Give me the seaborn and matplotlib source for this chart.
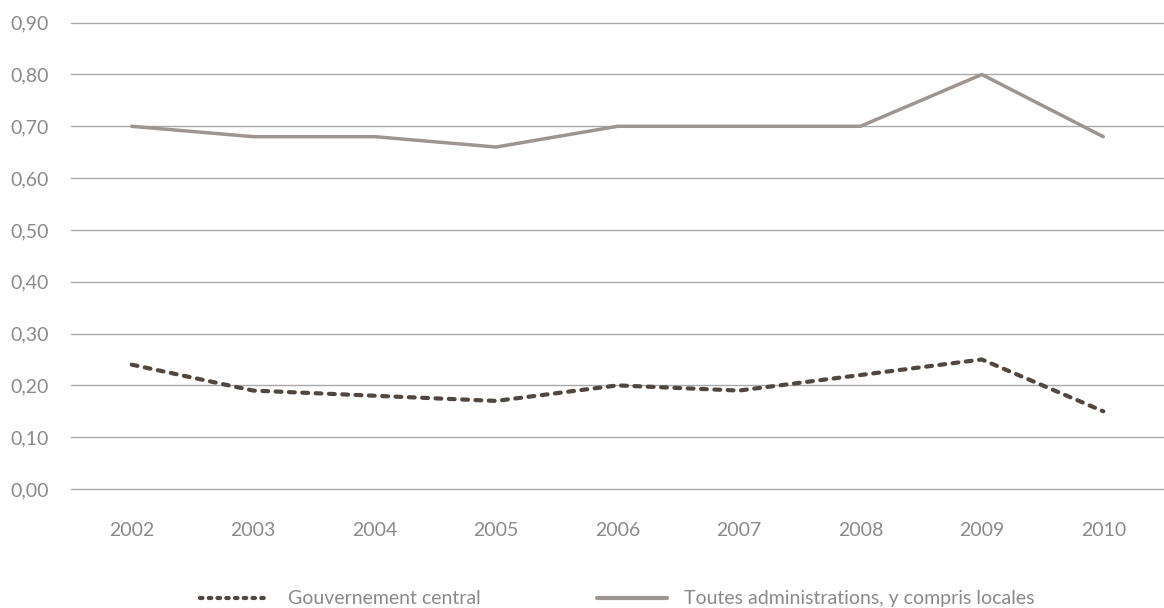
import matplotlib
matplotlib.use("Agg")
import matplotlib.pyplot as plt
from matplotlib.lines import Line2D
from matplotlib.ticker import FuncFormatter
import pandas as pd
import seaborn as sns

# Series values by year
years = [2002, 2003, 2004, 2005, 2006, 2007, 2008, 2009, 2010]
gouvernement_central = [0.24, 0.19, 0.18, 0.17, 0.20, 0.19, 0.22, 0.25, 0.15]
toutes_administrations = [0.70, 0.68, 0.68, 0.66, 0.70, 0.70, 0.70, 0.80, 0.68]
series_names = ["Gouvernement central", "Toutes administrations, y compris locales"]
y_ticks = [0.0, 0.1, 0.2, 0.3, 0.4, 0.5, 0.6, 0.7, 0.8, 0.9]

df = pd.DataFrame({
    "annee": years * 2,
    "valeur": gouvernement_central + toutes_administrations,
    "serie": [series_names[0]] * len(years) + [series_names[1]] * len(years),
})

sns.set_theme(style="white")
plt.rcParams["font.family"] = ["Lato", "DejaVu Sans"]

text_color = "#8a8a8a"
grid_color = "#a9a9a9"
dark = "#514741"
light = "#9d9591"

fig = plt.figure(figsize=(11.64, 6.08), dpi=100)
ax = fig.add_axes([0.061, 0.1957, 0.939, 0.767])

# horizontal gridlines, drawn unclipped so the 0 and top lines stay full width
for y in y_ticks:
    ax.axhline(y, color=grid_color, lw=1.0, zorder=0, clip_on=False)

sns.lineplot(
    data=df[df["serie"] == series_names[1]], x="annee", y="valeur",
    color=light, lw=2.5, ax=ax, legend=False, solid_capstyle="round",
)
sns.lineplot(
    data=df[df["serie"] == series_names[0]], x="annee", y="valeur",
    color=dark, lw=3.0, ax=ax, legend=False,
    dashes=(1.4, 1.8), dash_capstyle="round",
)

ax.set_xlim(years[0] - 0.5, years[-1] + 0.5)
ax.set_ylim(0, 0.9)
ax.set_xticks(years)
ax.set_xticklabels([str(y) for y in years])
ax.set_yticks(y_ticks)
ax.yaxis.set_major_formatter(FuncFormatter(lambda v, _: f"{v:.2f}".replace(".", ",")))
ax.tick_params(axis="x", length=0, pad=24, labelsize=14, labelcolor=text_color)
ax.tick_params(axis="y", length=0, pad=16, labelsize=14, labelcolor=text_color)
ax.set_xlabel("")
ax.set_ylabel("")
for s in ax.spines.values():
    s.set_visible(False)
ax.grid(False)

handles = [
    Line2D([], [], color=dark, lw=3.0, dashes=(0.6, 1.5), dash_capstyle="round"),
    Line2D([], [], color=light, lw=3.0, solid_capstyle="round"),
]
leg = fig.legend(
    handles, series_names, loc="center", bbox_to_anchor=(0.5305, 0.015),
    ncol=2, frameon=False, fontsize=14, handlelength=3.6, handletextpad=0.9,
    columnspacing=6.0,
)
for t in leg.get_texts():
    t.set_color(text_color)

fig.savefig("out.png", dpi=100)
